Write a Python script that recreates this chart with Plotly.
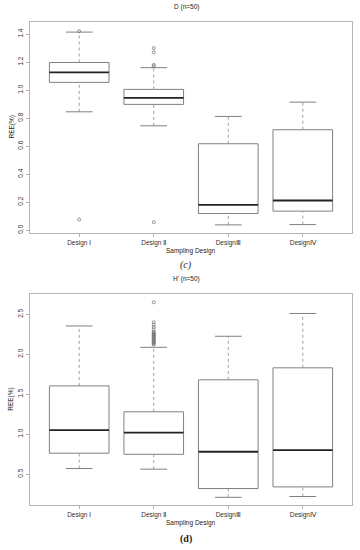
import plotly.graph_objects as go

# ---------------- data ----------------
designs = ["Design Ⅰ", "Design Ⅱ", "DesignⅢ", "DesignⅣ"]

D_lower = [0.845, 0.745, 0.038, 0.040]
D_q1 = [1.055, 0.898, 0.119, 0.136]
D_median = [1.126, 0.945, 0.181, 0.212]
D_q3 = [1.197, 1.005, 0.617, 0.717]
D_upper = [1.414, 1.160, 0.812, 0.914]
D_outliers = [[1.42, 0.076], [1.17, 1.18, 1.27, 1.30, 0.057], [], []]

H_lower = [0.570, 0.562, 0.210, 0.220]
H_q1 = [0.762, 0.748, 0.320, 0.340]
H_median = [1.050, 1.020, 0.780, 0.800]
H_q3 = [1.604, 1.280, 1.680, 1.830]
H_upper = [2.354, 2.087, 2.225, 2.510]
H_outliers = [[],
              [2.12, 2.13, 2.14, 2.15, 2.16, 2.17, 2.18, 2.19, 2.20, 2.21, 2.22,
               2.23, 2.24, 2.25, 2.26, 2.27, 2.28, 2.31, 2.34, 2.37, 2.40, 2.65],
              [], []]

D_ticks = [0.0, 0.2, 0.4, 0.6, 0.8, 1.0, 1.2, 1.4]
H_ticks = [0.5, 1.0, 1.5, 2.0, 2.5]

# ---------------- style ----------------
BOX_HALF = 0.4
CAP_HALF = 0.18
BOX_COLOR = "#808080"
FRAME_COLOR = "#b4b4b4"
FONT = "Liberation Sans, Arial, sans-serif"
W, H = 360, 550

fig = go.Figure()


def add_boxes(lower, q1, med, q3, upper, outliers, xa, ya):
    bx, by, mx, my, wx, wy, cx, cy, ox, oy = [], [], [], [], [], [], [], [], [], []
    for i in range(len(designs)):
        p = i + 1
        bx += [p - BOX_HALF, p + BOX_HALF, p + BOX_HALF, p - BOX_HALF, p - BOX_HALF, None]
        by += [q1[i], q1[i], q3[i], q3[i], q1[i], None]
        mx += [p - BOX_HALF, p + BOX_HALF, None]
        my += [med[i], med[i], None]
        wx += [p, p, None, p, p, None]
        wy += [q3[i], upper[i], None, lower[i], q1[i], None]
        cx += [p - CAP_HALF, p + CAP_HALF, None, p - CAP_HALF, p + CAP_HALF, None]
        cy += [upper[i], upper[i], None, lower[i], lower[i], None]
        for v in outliers[i]:
            ox.append(p)
            oy.append(v)
    common = dict(xaxis=xa, yaxis=ya, showlegend=False, hoverinfo="skip")
    fig.add_trace(go.Scatter(x=wx, y=wy, mode="lines",
                             line=dict(color="#a0a0a0", width=1, dash="dot"), **common))
    fig.add_trace(go.Scatter(x=cx, y=cy, mode="lines",
                             line=dict(color=BOX_COLOR, width=1), **common))
    fig.add_trace(go.Scatter(x=bx, y=by, mode="lines", fill="toself", fillcolor="white",
                             line=dict(color=BOX_COLOR, width=1), **common))
    fig.add_trace(go.Scatter(x=mx, y=my, mode="lines",
                             line=dict(color="#222222", width=1.8), **common))
    fig.add_trace(go.Scatter(x=ox, y=oy, mode="markers",
                             marker=dict(symbol="circle-open", size=3, color="#777777",
                                         line=dict(width=0.8)), **common))


add_boxes(D_lower, D_q1, D_median, D_q3, D_upper, D_outliers, "x", "y")
add_boxes(H_lower, H_q1, H_median, H_q3, H_upper, H_outliers, "x2", "y2")

x_dom = [30 / W, 352 / W]
top_dom = [1 - 233 / H, 1 - 22 / H]
bot_dom = [1 - 505.3 / H, 1 - 294.3 / H]

axis_common = dict(showline=True, mirror=True, linecolor=FRAME_COLOR, linewidth=1,
                   ticks="outside", ticklen=3, tickcolor=FRAME_COLOR, tickwidth=1,
                   showgrid=False, zeroline=False,
                   tickfont=dict(family=FONT, size=6.5, color="#333333"))

xticks = dict(tickmode="array", tickvals=[1, 2, 3, 4], ticktext=designs,
              range=[0.34, 4.66], domain=x_dom)

fig.update_layout(
    width=W, height=H,
    margin=dict(l=0, r=0, t=0, b=0),
    paper_bgcolor="white", plot_bgcolor="white",
    xaxis=dict(anchor="y", **xticks, **axis_common),
    yaxis=dict(anchor="x", domain=top_dom, range=[-0.02, 1.486],
               tickmode="array", tickvals=D_ticks,
               ticktext=[f"{v:.1f}" for v in D_ticks], tickangle=-90, **axis_common),
    xaxis2=dict(anchor="y2", **xticks, **axis_common),
    yaxis2=dict(anchor="x2", domain=bot_dom, range=[0.11, 2.75],
                tickmode="array", tickvals=H_ticks,
                ticktext=[f"{v:.1f}" for v in H_ticks], tickangle=-90, **axis_common),
)

annots = [
    dict(text="D (n=50)", x=186 / W, y=1 - 7 / H, size=6.5, family=FONT),
    dict(text="H' (n=50)", x=186 / W, y=1 - 279 / H, size=6.5, family=FONT),
    dict(text="Sampling Design", x=191 / W, y=1 - 251 / H, size=6.5, family=FONT),
    dict(text="Sampling Design", x=191 / W, y=1 - 523 / H, size=6.5, family=FONT),
    dict(text="<i>(c)</i>", x=186 / W, y=1 - 265.5 / H, size=10, family="Liberation Serif, serif"),
    dict(text="<b>(d)</b>", x=186 / W, y=1 - 538.5 / H, size=10, family="Liberation Serif, serif"),
]
for a in annots:
    fig.add_annotation(text=a["text"], x=a["x"], y=a["y"], xref="paper", yref="paper",
                       showarrow=False, xanchor="center", yanchor="middle",
                       font=dict(family=a["family"], size=a["size"], color="#222222"))

for yc in [(22 + 233) / 2, (294.3 + 505.3) / 2]:
    fig.add_annotation(text="REE(%)", x=11 / W, y=1 - yc / H, xref="paper", yref="paper",
                       showarrow=False, textangle=-90, xanchor="center", yanchor="middle",
                       font=dict(family=FONT, size=6.5, color="#222222"))

fig.write_html("out.html", config={"displayModeBar": False},
               post_script="document.body.style.margin='0';"
               "document.body.style.overflow='hidden';")
